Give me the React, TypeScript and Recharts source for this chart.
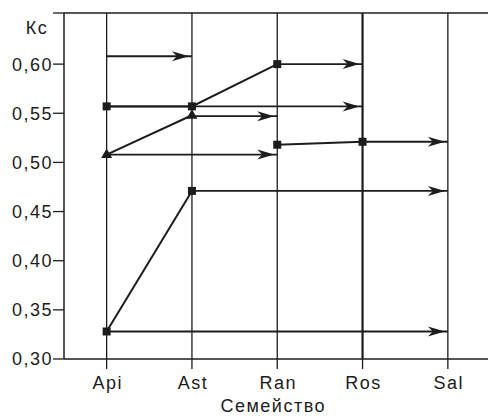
import type { ReactElement } from "react";
import {
  ComposedChart,
  Line,
  ReferenceLine,
  XAxis,
  YAxis,
} from "recharts";

const categories = ["Api", "Ast", "Ran", "Ros", "Sal"];
const yTicks = [0.3, 0.35, 0.4, 0.45, 0.5, 0.55, 0.6];
const yTop = 0.652;

// polylines with markers
const lowSquares = [0.328, 0.471, null, null, null];
const triangles = [0.508, 0.548, null, null, null];
const highSquares = [0.557, 0.557, 0.6, null, null];
const midSquares = [null, null, 0.518, 0.521, null];

// horizontal arrows: level, start family, end family
const arrowLevels = [0.328, 0.471, 0.508, 0.547, 0.557, 0.6, 0.521, 0.608];
const arrowFrom = ["Api", "Ast", "Api", "Ast", "Api", "Ran", "Ros", "Api"];
const arrowTo = ["Sal", "Sal", "Ran", "Ran", "Ros", "Ros", "Sal", "Ast"];

const ink = "#1c1c1c";
const font = "'Liberation Sans', Arial, sans-serif";

type Row = { cat: string; [key: string]: string | number | null };

const data: Row[] = categories.map((cat, i) => {
  const row: Row = {
    cat,
    low: lowSquares[i],
    tri: triangles[i],
    high: highSquares[i],
    mid: midSquares[i],
  };
  arrowLevels.forEach((level, a) => {
    const hit = arrowFrom[a] === cat || arrowTo[a] === cat;
    row[`a${a}`] = hit ? level : null;
  });
  return row;
});

function squareDot(props: any): ReactElement {
  const { cx, cy, index, dataKey } = props;
  if (cy == null || cx == null) return <g key={`${dataKey}-${index}`} />;
  return (
    <rect
      key={`${dataKey}-${index}`}
      x={cx - 4}
      y={cy - 4}
      width={8}
      height={8}
      fill={ink}
    />
  );
}

function triangleDot(props: any): ReactElement {
  const { cx, cy, index } = props;
  if (cy == null || cx == null) return <g key={`t-${index}`} />;
  return (
    <path
      key={`t-${index}`}
      d={`M${cx},${cy - 6} L${cx + 5.5},${cy + 3.5} L${cx - 5.5},${cy + 3.5} Z`}
      fill={ink}
    />
  );
}

function makeArrowHead(toIndex: number, key: string) {
  return (props: any): ReactElement => {
    const { cx, cy, index } = props;
    if (cy == null || cx == null || index !== toIndex) {
      return <g key={`${key}-${index}`} />;
    }
    const t = cx - 3;
    return (
      <path
        key={`${key}-${index}`}
        d={`M${t},${cy} L${t - 17},${cy - 5} L${t - 12},${cy} L${t - 17},${cy + 5} Z`}
        fill={ink}
      />
    );
  };
}

export default function App(): ReactElement {
  return (
    <div
      style={{
        position: "absolute",
        left: 0,
        top: 0,
        width: 488,
        height: 418,
        overflow: "hidden",
        background: "#fff",
        fontFamily: font,
        letterSpacing: 1.5,
      }}
    >
      <ComposedChart
        width={500}
        height={418}
        data={data}
        margin={{ top: 13, right: 9.5, left: 0, bottom: 0 }}
      >
        <XAxis
          dataKey="cat"
          scale="band"
          interval={0}
          height={59}
          tickSize={10}
          tickMargin={7}
          axisLine={{ stroke: ink, strokeWidth: 1.5 }}
          tickLine={{ stroke: ink, strokeWidth: 1.3 }}
          tick={{ fill: ink, fontSize: 18, fontFamily: font, dx: 1 }}
          label={{
            value: "Семейство",
            position: "insideBottom",
            offset: 6,
            dx: -4,
            fill: ink,
            fontSize: 18,
            fontFamily: font,
          }}
        />
        <YAxis
          type="number"
          width={64}
          domain={[0.3, yTop]}
          ticks={[...yTicks, yTop]}
          interval={0}
          tickSize={11}
          tickMargin={0}
          tickFormatter={(v: number) => (v === yTop ? "" : v.toFixed(2).replace(".", ","))}
          axisLine={{ stroke: ink, strokeWidth: 1.5 }}
          tickLine={{ stroke: ink, strokeWidth: 1.3 }}
          tick={{ fill: ink, fontSize: 18, fontFamily: font }}
          label={{
            value: "Кс",
            position: "insideTop",
            offset: 8,
            dx: 5,
            fill: ink,
            fontSize: 18,
            fontFamily: font,
          }}
        />
        <ReferenceLine y={yTop} stroke={ink} strokeWidth={1.5} ifOverflow="visible" />
        {categories.map((cat) => (
          <ReferenceLine
            key={cat}
            x={cat}
            stroke={ink}
            strokeWidth={cat === "Ros" ? 2.2 : 1.3}
          />
        ))}
        {arrowLevels.map((_, a) => (
          <Line
            key={`a${a}`}
            dataKey={`a${a}`}
            connectNulls
            stroke={ink}
            strokeWidth={1.8}
            dot={makeArrowHead(categories.indexOf(arrowTo[a]), `a${a}`)}
            activeDot={false}
            isAnimationActive={false}
          />
        ))}
        <Line
          dataKey="low"
          type="linear"
          stroke={ink}
          strokeWidth={2}
          dot={squareDot}
          activeDot={false}
          isAnimationActive={false}
        />
        <Line
          dataKey="tri"
          type="linear"
          stroke={ink}
          strokeWidth={2}
          dot={triangleDot}
          activeDot={false}
          isAnimationActive={false}
        />
        <Line
          dataKey="high"
          type="linear"
          stroke={ink}
          strokeWidth={2}
          dot={squareDot}
          activeDot={false}
          isAnimationActive={false}
        />
        <Line
          dataKey="mid"
          type="linear"
          stroke={ink}
          strokeWidth={2}
          dot={squareDot}
          activeDot={false}
          isAnimationActive={false}
        />
      </ComposedChart>
    </div>
  );
}
